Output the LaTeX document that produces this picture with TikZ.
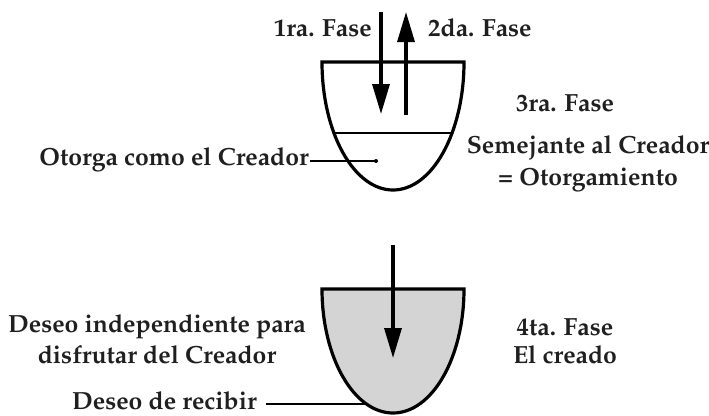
\documentclass[tikz,border=0pt]{standalone}
\usepackage[T1]{fontenc}
\renewcommand{\rmdefault}{ppl}
\usetikzlibrary{arrows.meta}
\begin{document}
\begin{tikzpicture}[x=1pt,y=-1pt,
  lbl/.style={font=\fontsize{24.8}{28}\selectfont\bfseries, text=black!88, inner sep=0pt, align=center},
  vessel/.style={line width=3.2pt, line join=miter},
  bigarrow/.style={line width=3.3pt, -{Triangle[length=30pt,width=17pt]}},
  thin/.style={line width=1.2pt}
]
\useasboundingbox (0,0) rectangle (709,415);
% top vessel
\draw[vessel] (322,62) -- (464,62) arc[start angle=0,end angle=180,x radius=71,y radius=128] -- cycle;
\draw[line width=2.2pt] (334.5,133) -- (451.5,133);
\coordinate (a1s) at (381,12); \coordinate (a1e) at (381,114);
\coordinate (a2s) at (406,115); \coordinate (a2e) at (406,12);
\draw[bigarrow] (a1s) -- (a1e);
\draw[bigarrow] (a2s) -- (a2e);
\fill (376,161) circle (2pt) coordinate (dot);
% labels top
\node[lbl, anchor=east] (f1) at (372,28) {1ra. Fase};
\node[lbl, anchor=west] (f2) at (428,28) {2da. Fase};
\node[lbl] (f3) at (565,103) {3ra. Fase};
\node[lbl] (sem) at (588,148) {Semejante al Creador};
\node[lbl] (oto) at (588,180) {= Otorgamiento};
\node[lbl, anchor=east] (otc) at (309,160) {Otorga como el Creador};
\draw[thin] ([xshift=1pt]otc.east |- dot) -- (dot);
% bottom vessel
\draw[vessel, fill=black!17] (322,289) -- (464,289) arc[start angle=0,end angle=180,x radius=71,y radius=124] -- cycle;
\coordinate (a3s) at (393,245); \coordinate (a3e) at (393,358);
\draw[bigarrow] (a3s) -- (a3e);
\node[lbl] (des1) at (157,327) {Deseo independiente para};
\node[lbl] (des2) at (157,355) {disfrutar del Creador};
\node[lbl] (f4) at (565,327) {4ta. Fase};
\node[lbl] (cre) at (565,355) {El creado};
\node[lbl, anchor=east] (rec) at (257,401) {Deseo de recibir};
\coordinate (recend) at (366,404);
\draw[thin] ([xshift=9pt]rec.east |- recend) -- (recend);
\end{tikzpicture}
\end{document}
